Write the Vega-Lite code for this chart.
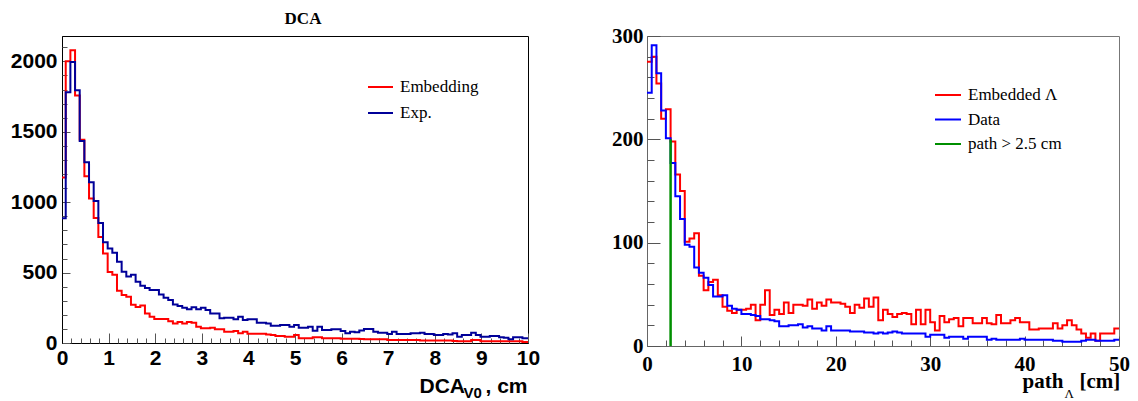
{
  "$schema": "https://vega.github.io/schema/vega-lite/v6.json",
  "padding": {"left": 9, "top": 9, "right": 0, "bottom": 0},
  "spacing": 70,
  "background": "white",
  "config": {"view": {"stroke": null}, "font": "Liberation Sans"},
  "resolve": {"scale": {"color": "independent"}, "legend": {"color": "independent"}},
  "datasets": {
    "dca": [
      {"x":0,"Embedding":1175,"Exp":885},{"x":0.08,"Embedding":2000,"Exp":1780},{"x":0.18,"Embedding":2078,"Exp":1995},{"x":0.28,"Embedding":1757,"Exp":1794},{"x":0.38,"Embedding":1444,"Exp":1435},{"x":0.48,"Embedding":1184,"Exp":1284},{"x":0.58,"Embedding":1026,"Exp":1142},{"x":0.68,"Embedding":887,"Exp":1009},{"x":0.78,"Embedding":752,"Exp":853},{"x":0.88,"Embedding":636,"Exp":716},
      {"x":0.98,"Embedding":504,"Exp":671},{"x":1.08,"Embedding":485,"Exp":641},{"x":1.18,"Embedding":371,"Exp":577},{"x":1.28,"Embedding":340,"Exp":506},{"x":1.38,"Embedding":329,"Exp":473},{"x":1.48,"Embedding":272,"Exp":485},{"x":1.58,"Embedding":255,"Exp":435},{"x":1.68,"Embedding":267,"Exp":407},{"x":1.78,"Embedding":210,"Exp":390},{"x":1.88,"Embedding":187,"Exp":376},
      {"x":1.98,"Embedding":170,"Exp":376},{"x":2.08,"Embedding":170,"Exp":345},{"x":2.18,"Embedding":170,"Exp":322},{"x":2.28,"Embedding":154,"Exp":305},{"x":2.38,"Embedding":139,"Exp":274},{"x":2.48,"Embedding":149,"Exp":262},{"x":2.58,"Embedding":139,"Exp":250},{"x":2.68,"Embedding":149,"Exp":239},{"x":2.78,"Embedding":144,"Exp":253},{"x":2.88,"Embedding":116,"Exp":239},
      {"x":2.98,"Embedding":104,"Exp":250},{"x":3.08,"Embedding":104,"Exp":234},{"x":3.18,"Embedding":109,"Exp":210},{"x":3.28,"Embedding":97,"Exp":210},{"x":3.38,"Embedding":97,"Exp":175},{"x":3.48,"Embedding":80,"Exp":180},{"x":3.58,"Embedding":80,"Exp":180},{"x":3.68,"Embedding":85,"Exp":168},{"x":3.78,"Embedding":69,"Exp":187},{"x":3.88,"Embedding":80,"Exp":163},
      {"x":3.98,"Embedding":65,"Exp":168},{"x":4.08,"Embedding":65,"Exp":168},{"x":4.18,"Embedding":65,"Exp":144},{"x":4.28,"Embedding":65,"Exp":144},{"x":4.38,"Embedding":60,"Exp":139},{"x":4.48,"Embedding":57,"Exp":123},{"x":4.58,"Embedding":50,"Exp":123},{"x":4.68,"Embedding":50,"Exp":128},{"x":4.78,"Embedding":45,"Exp":128},{"x":4.88,"Embedding":45,"Exp":116},
      {"x":4.98,"Embedding":57,"Exp":128},{"x":5.08,"Embedding":33,"Exp":109},{"x":5.18,"Embedding":33,"Exp":109},{"x":5.28,"Embedding":33,"Exp":116},{"x":5.38,"Embedding":40,"Exp":87},{"x":5.48,"Embedding":40,"Exp":116},{"x":5.58,"Embedding":33,"Exp":92},{"x":5.68,"Embedding":33,"Exp":92},{"x":5.78,"Embedding":33,"Exp":97},{"x":5.88,"Embedding":33,"Exp":97},
      {"x":5.98,"Embedding":31,"Exp":85},{"x":6.08,"Embedding":31,"Exp":69},{"x":6.18,"Embedding":31,"Exp":80},{"x":6.28,"Embedding":31,"Exp":76},{"x":6.38,"Embedding":28,"Exp":88},{"x":6.48,"Embedding":26,"Exp":99},{"x":6.58,"Embedding":26,"Exp":99},{"x":6.68,"Embedding":26,"Exp":80},{"x":6.78,"Embedding":26,"Exp":73},{"x":6.88,"Embedding":26,"Exp":73},
      {"x":6.98,"Embedding":21,"Exp":64},{"x":7.08,"Embedding":21,"Exp":80},{"x":7.18,"Embedding":21,"Exp":64},{"x":7.28,"Embedding":21,"Exp":64},{"x":7.38,"Embedding":21,"Exp":64},{"x":7.48,"Embedding":21,"Exp":69},{"x":7.58,"Embedding":21,"Exp":69},{"x":7.68,"Embedding":17,"Exp":73},{"x":7.78,"Embedding":17,"Exp":64},{"x":7.88,"Embedding":17,"Exp":64},
      {"x":7.98,"Embedding":17,"Exp":57},{"x":8.08,"Embedding":17,"Exp":57},{"x":8.18,"Embedding":17,"Exp":64},{"x":8.28,"Embedding":17,"Exp":61},{"x":8.38,"Embedding":14,"Exp":69},{"x":8.48,"Embedding":12,"Exp":45},{"x":8.58,"Embedding":12,"Exp":57},{"x":8.68,"Embedding":12,"Exp":57},{"x":8.78,"Embedding":21,"Exp":73},{"x":8.88,"Embedding":21,"Exp":57},
      {"x":8.98,"Embedding":12,"Exp":45},{"x":9.08,"Embedding":12,"Exp":45},{"x":9.18,"Embedding":12,"Exp":50},{"x":9.28,"Embedding":12,"Exp":50},{"x":9.38,"Embedding":12,"Exp":40},{"x":9.48,"Embedding":12,"Exp":38},{"x":9.58,"Embedding":12,"Exp":26},{"x":9.68,"Embedding":12,"Exp":40},{"x":9.78,"Embedding":12,"Exp":40},{"x":9.88,"Embedding":7,"Exp":33},
      {"x":9.98,"Embedding":7,"Exp":33},{"x":10,"Embedding":7,"Exp":33}
    ],
    "path": [
      {"x":0,"Embedded Λ":275,"Data":245},{"x":0.5,"Embedded Λ":280,"Data":291},{"x":1,"Embedded Λ":254,"Data":264},{"x":1.5,"Embedded Λ":220,"Data":228},{"x":2,"Embedded Λ":229,"Data":201},{"x":2.5,"Embedded Λ":198,"Data":177},{"x":3,"Embedded Λ":166,"Data":145},{"x":3.5,"Embedded Λ":150,"Data":123},{"x":4,"Embedded Λ":101,"Data":98},{"x":4.5,"Embedded Λ":104,"Data":96},
      {"x":5,"Embedded Λ":109,"Data":76},{"x":5.5,"Embedded Λ":68,"Data":71},{"x":6,"Embedded Λ":54,"Data":66},{"x":6.5,"Embedded Λ":62,"Data":59},{"x":7,"Embedded Λ":64,"Data":48},{"x":7.5,"Embedded Λ":49,"Data":48},{"x":8,"Embedded Λ":38,"Data":49},{"x":8.5,"Embedded Λ":34,"Data":39},{"x":9,"Embedded Λ":32,"Data":36},{"x":9.5,"Embedded Λ":35,"Data":35},
      {"x":10,"Embedded Λ":35,"Data":31},{"x":10.5,"Embedded Λ":36,"Data":31},{"x":11,"Embedded Λ":40,"Data":30},{"x":11.5,"Embedded Λ":25,"Data":29},{"x":12,"Embedded Λ":40,"Data":26},{"x":12.5,"Embedded Λ":54,"Data":26},{"x":13,"Embedded Λ":30,"Data":25},{"x":13.5,"Embedded Λ":35,"Data":24},{"x":14,"Embedded Λ":31,"Data":19},{"x":14.5,"Embedded Λ":42,"Data":19},
      {"x":15,"Embedded Λ":32,"Data":20},{"x":15.5,"Embedded Λ":40,"Data":20},{"x":16,"Embedded Λ":40,"Data":21},{"x":16.5,"Embedded Λ":39,"Data":18},{"x":17,"Embedded Λ":45,"Data":19},{"x":17.5,"Embedded Λ":36,"Data":17},{"x":18,"Embedded Λ":42,"Data":17},{"x":18.5,"Embedded Λ":39,"Data":15},{"x":19,"Embedded Λ":45,"Data":19},{"x":19.5,"Embedded Λ":42,"Data":15},
      {"x":20,"Embedded Λ":42,"Data":15},{"x":20.5,"Embedded Λ":41,"Data":15},{"x":21,"Embedded Λ":38,"Data":15},{"x":21.5,"Embedded Λ":32,"Data":14},{"x":22,"Embedded Λ":40,"Data":14},{"x":22.5,"Embedded Λ":37,"Data":14},{"x":23,"Embedded Λ":46,"Data":13},{"x":23.5,"Embedded Λ":38,"Data":13},{"x":24,"Embedded Λ":47,"Data":12},{"x":24.5,"Embedded Λ":25,"Data":13},
      {"x":25,"Embedded Λ":35,"Data":12},{"x":25.5,"Embedded Λ":31,"Data":13},{"x":26,"Embedded Λ":28,"Data":14},{"x":26.5,"Embedded Λ":31,"Data":13},{"x":27,"Embedded Λ":32,"Data":12},{"x":27.5,"Embedded Λ":31,"Data":12},{"x":28,"Embedded Λ":21,"Data":12},{"x":28.5,"Embedded Λ":35,"Data":12},{"x":29,"Embedded Λ":21,"Data":12},{"x":29.5,"Embedded Λ":35,"Data":9},
      {"x":30,"Embedded Λ":23,"Data":11},{"x":30.5,"Embedded Λ":15,"Data":11},{"x":31,"Embedded Λ":29,"Data":11},{"x":31.5,"Embedded Λ":23,"Data":8},{"x":32,"Embedded Λ":26,"Data":9},{"x":32.5,"Embedded Λ":27,"Data":9},{"x":33,"Embedded Λ":19,"Data":9},{"x":33.5,"Embedded Λ":27,"Data":7},{"x":34,"Embedded Λ":27,"Data":9},{"x":34.5,"Embedded Λ":22,"Data":9},
      {"x":35,"Embedded Λ":22,"Data":9},{"x":35.5,"Embedded Λ":27,"Data":9},{"x":36,"Embedded Λ":22,"Data":6},{"x":36.5,"Embedded Λ":21,"Data":7},{"x":37,"Embedded Λ":30,"Data":6},{"x":37.5,"Embedded Λ":22,"Data":6},{"x":38,"Embedded Λ":22,"Data":6},{"x":38.5,"Embedded Λ":25,"Data":6},{"x":39,"Embedded Λ":27,"Data":6},{"x":39.5,"Embedded Λ":23,"Data":7},
      {"x":40,"Embedded Λ":23,"Data":6},{"x":40.5,"Embedded Λ":16,"Data":6},{"x":41,"Embedded Λ":16,"Data":6},{"x":41.5,"Embedded Λ":17,"Data":6},{"x":42,"Embedded Λ":17,"Data":6},{"x":42.5,"Embedded Λ":17,"Data":6},{"x":43,"Embedded Λ":22,"Data":5},{"x":43.5,"Embedded Λ":17,"Data":5},{"x":44,"Embedded Λ":20,"Data":4},{"x":44.5,"Embedded Λ":25,"Data":4},
      {"x":45,"Embedded Λ":20,"Data":4},{"x":45.5,"Embedded Λ":16,"Data":4},{"x":46,"Embedded Λ":12,"Data":5},{"x":46.5,"Embedded Λ":8,"Data":6},{"x":47,"Embedded Λ":12,"Data":6},{"x":47.5,"Embedded Λ":5,"Data":5},{"x":48,"Embedded Λ":12,"Data":5},{"x":48.5,"Embedded Λ":12,"Data":5},{"x":49,"Embedded Λ":12,"Data":5},{"x":49.5,"Embedded Λ":17,"Data":6},
      {"x":50,"Embedded Λ":17,"Data":6}
    ],
    "cut": [{"x":2.5,"y":0,"y2":200,"s":"path > 2.5 cm"}]
  },
  "hconcat": [
    {
      "width": 466,
      "height": 307,
      "title": {"text": "DCA", "font": "Liberation Serif", "fontSize": 17, "fontWeight": "bold", "color": "black", "anchor": "middle", "dx": 8, "offset": 8},
      "view": {"stroke": "black", "strokeWidth": 1},
      "data": {"name": "dca"},
      "transform": [{"fold": ["Embedding", "Exp"], "as": ["s", "n"]}],
      "layer": [
        {
          "mark": {"type": "line", "interpolate": "step-after", "strokeWidth": 2, "clip": true},
          "encoding": {
            "x": {"field": "x", "type": "quantitative", "scale": {"domain": [0, 10], "nice": false},
              "axis": {"orient": "bottom", "values": [0,1,2,3,4,5,6,7,8,9,10], "format": "d", "tickSize": -10, "tickColor": "#555", "labelPadding": 14, "labelFont": "Liberation Sans", "labelFontSize": 21, "labelFontWeight": "bold", "labelColor": "black", "labelFlush": false, "labelOverlap": false, "domainColor": "black", "grid": false,
                "title": "DCA", "titleFont": "Liberation Sans", "titleFontSize": 21, "titleFontWeight": "bold", "titleColor": "black", "titleX": 357, "titleY": 49, "titleAlign": "left", "titleBaseline": "alphabetic", "titleAnchor": "start"}},
            "y": {"field": "n", "type": "quantitative", "scale": {"domain": [0, 2180], "nice": false},
              "axis": {"orient": "left", "values": [0,500,1000,1500,2000], "format": "d", "tickSize": -8, "tickColor": "#555", "labelPadding": 13, "labelFont": "Liberation Sans", "labelFontSize": 21, "labelFontWeight": "bold", "labelColor": "black", "labelFlush": false, "labelOverlap": false, "domainColor": "black", "grid": false, "title": null}},
            "color": {"field": "s", "type": "nominal", "scale": {"domain": ["Embedding", "Exp"], "range": ["#ff0000", "#000099"]},
              "legend": {"orient": "none", "legendX": 305, "legendY": 37.5, "title": null, "symbolType": "stroke", "symbolSize": 625, "symbolStrokeWidth": 2, "labelFont": "Liberation Serif", "labelFontSize": 17, "labelColor": "black", "labelOffset": 6, "rowPadding": 4, "padding": 0, "labelExpr": "datum.label == 'Exp' ? 'Exp.' : datum.label"}}
          }
        },
        {
          "mark": {"type": "line", "opacity": 0},
          "encoding": {
            "x": {"field": "x", "type": "quantitative",
              "axis": {"orient": "bottom", "values": [0.2,0.4,0.6,0.8,1.2,1.4,1.6,1.8,2.2,2.4,2.6,2.8,3.2,3.4,3.6,3.8,4.2,4.4,4.6,4.8,5.2,5.4,5.6,5.8,6.2,6.4,6.6,6.8,7.2,7.4,7.6,7.8,8.2,8.4,8.6,8.8,9.2,9.4,9.6,9.8], "tickSize": -5, "tickColor": "#555", "labels": false, "domain": false, "grid": false,
                "title": "V0", "titleFont": "Liberation Sans", "titleFontSize": 15, "titleFontWeight": "bold", "titleColor": "black", "titleX": 401, "titleY": 54, "titleAlign": "left", "titleBaseline": "alphabetic", "titleAnchor": "start"}},
            "y": {"field": "n", "type": "quantitative",
              "axis": {"orient": "left", "values": [100,200,300,400,600,700,800,900,1100,1200,1300,1400,1600,1700,1800,1900,2100], "tickSize": -5, "tickColor": "#555", "labels": false, "domain": false, "grid": false, "title": null}}
          }
        },
        {
          "mark": {"type": "line", "opacity": 0},
          "encoding": {
            "x": {"field": "x", "type": "quantitative",
              "axis": {"orient": "bottom", "ticks": false, "labels": false, "domain": false, "grid": false,
                "title": ", cm", "titleFont": "Liberation Sans", "titleFontSize": 21, "titleFontWeight": "bold", "titleColor": "black", "titleX": 423, "titleY": 49, "titleAlign": "left", "titleBaseline": "alphabetic", "titleAnchor": "start"}},
            "y": {"field": "n", "type": "quantitative", "axis": null}
          }
        }
      ],
      "resolve": {"axis": {"x": "independent", "y": "independent"}}
    },
    {
      "width": 472,
      "height": 310,
      "view": {"stroke": "#777", "strokeWidth": 1},
      "layer": [
        {
          "data": {"name": "path"},
          "transform": [{"fold": ["Embedded Λ", "Data"], "as": ["s", "n"]}],
          "mark": {"type": "line", "interpolate": "step-after", "strokeWidth": 2, "clip": true},
          "encoding": {
            "x": {"field": "x", "type": "quantitative", "scale": {"domain": [0, 50], "nice": false},
              "axis": {"orient": "bottom", "values": [0,10,20,30,40,50], "format": "d", "tickSize": -10, "tickColor": "#555", "labelPadding": 17, "labelFont": "Liberation Serif", "labelFontSize": 21, "labelFontWeight": "bold", "labelColor": "black", "labelFlush": false, "labelOverlap": false, "domainColor": "#666", "grid": false,
                "title": "path", "titleFont": "Liberation Serif", "titleFontSize": 21, "titleFontWeight": "bold", "titleColor": "black", "titleX": 375, "titleY": 41, "titleAlign": "left", "titleBaseline": "alphabetic", "titleAnchor": "start"}},
            "y": {"field": "n", "type": "quantitative", "scale": {"domain": [0, 300], "nice": false},
              "axis": {"orient": "left", "values": [0,100,200,300], "format": "d", "tickSize": -13, "tickColor": "#555", "labelPadding": 17, "labelFont": "Liberation Serif", "labelFontSize": 21, "labelFontWeight": "bold", "labelColor": "black", "labelFlush": false, "labelOverlap": false, "domainColor": "#666", "grid": false, "title": null}},
            "color": {"field": "s", "type": "nominal", "scale": {"domain": ["Embedded Λ", "Data", "path > 2.5 cm"], "range": ["#ff0000", "#0000ff", "#008f00"]},
              "legend": {"orient": "none", "legendX": 287, "legendY": 45, "title": null, "symbolType": "stroke", "symbolSize": 676, "symbolStrokeWidth": 2, "labelFont": "Liberation Serif", "labelFontSize": 17, "labelColor": "black", "labelOffset": 6, "rowPadding": 2.5, "padding": 0}}
          }
        },
        {
          "data": {"name": "cut"},
          "mark": {"type": "rule", "strokeWidth": 2.5},
          "encoding": {
            "x": {"field": "x", "type": "quantitative",
              "axis": {"orient": "bottom", "values": [2,4,6,8,12,14,16,18,22,24,26,28,32,34,36,38,42,44,46,48], "tickSize": -6, "tickColor": "#555", "labels": false, "domain": false, "grid": false,
                "title": "Λ", "titleFont": "Liberation Serif", "titleFontSize": 13, "titleFontWeight": "normal", "titleColor": "black", "titleX": 417, "titleY": 51, "titleAlign": "left", "titleBaseline": "alphabetic", "titleAnchor": "start"}},
            "y": {"field": "y", "type": "quantitative",
              "axis": {"orient": "left", "values": [20,40,60,80,120,140,160,180,220,240,260,280], "tickSize": -7, "tickColor": "#555", "labels": false, "domain": false, "grid": false, "title": null}},
            "y2": {"field": "y2"},
            "color": {"field": "s", "type": "nominal"}
          }
        },
        {
          "data": {"name": "cut"},
          "mark": {"type": "rule", "opacity": 0},
          "encoding": {
            "x": {"field": "x", "type": "quantitative",
              "axis": {"orient": "bottom", "ticks": false, "labels": false, "domain": false, "grid": false,
                "title": "[cm]", "titleFont": "Liberation Serif", "titleFontSize": 21, "titleFontWeight": "bold", "titleColor": "black", "titleX": 432, "titleY": 41, "titleAlign": "left", "titleBaseline": "alphabetic", "titleAnchor": "start"}},
            "y": {"field": "y", "type": "quantitative", "axis": null}
          }
        }
      ],
      "resolve": {"axis": {"x": "independent", "y": "independent"}}
    }
  ]
}
